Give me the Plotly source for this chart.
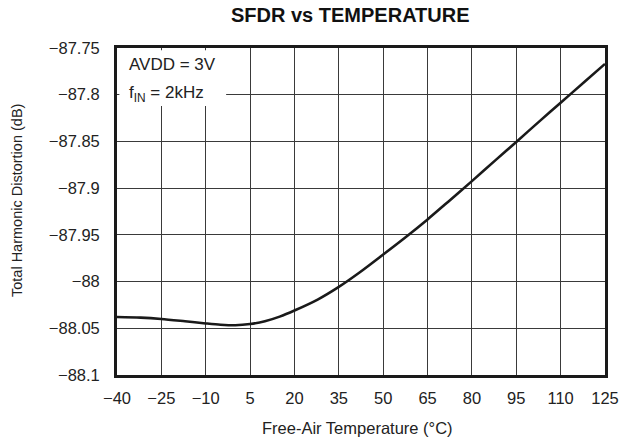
import plotly.graph_objects as go

# Free-air temperature (°C) and measured total harmonic distortion (dB)
temperature = [-40, -32, -25, -17, -10, -5, 0, 5, 10, 15, 20, 28, 35, 42, 50, 58, 65, 72, 80, 88, 95, 103, 110, 118, 125]
thd_db = [-88.038, -88.0386, -88.040, -88.0425, -88.0448, -88.0462, -88.0468, -88.0455, -88.0425, -88.0375,
          -88.031, -88.019, -88.0057, -87.9903, -87.9711, -87.9515, -87.9335, -87.9145, -87.8925, -87.870,
          -87.8505, -87.828, -87.8085, -87.7865, -87.767]

x_ticks = [-40, -25, -10, 5, 20, 35, 50, 65, 80, 95, 110, 125]
y_ticks = [-87.75, -87.8, -87.85, -87.9, -87.95, -88, -88.05, -88.1]


def fmt(v):
    return f"{v:g}".replace("-", "\u2212")


fig = go.Figure()
fig.add_trace(go.Scatter(
    x=temperature, y=thd_db, mode="lines",
    line=dict(color="#1a1a1a", width=2.6, shape="spline", smoothing=0.8),
    hoverinfo="skip", showlegend=False,
))

font = "Liberation Sans, Arial, sans-serif"
axis_common = dict(
    showgrid=True, gridcolor="#3a3a3a", gridwidth=1,
    showline=True, linecolor="#1a1a1a", linewidth=2.8, mirror=True,
    ticks="", zeroline=False,
    tickfont=dict(family=font, size=16.5, color="#222"),
)

fig.update_layout(
    width=630, height=443,
    margin=dict(l=117, r=25, t=48, b=68),
    paper_bgcolor="white", plot_bgcolor="white",
    title=dict(text="<b>SFDR vs TEMPERATURE</b>", xref="container", yref="container",
               x=0.556, xanchor="center", y=0.966, yanchor="middle",
               font=dict(family=font, size=20, color="#111")),
    xaxis=dict(range=[-40, 125], tickvals=x_ticks, ticktext=[fmt(v) for v in x_ticks],
               ticklabelstandoff=6, **axis_common),
    yaxis=dict(range=[-88.1, -87.75], tickvals=y_ticks, ticktext=[fmt(v) for v in y_ticks],
               ticklabelstandoff=11, **axis_common),
    shapes=[dict(type="rect", xref="x", yref="y", x0=-39.2, x1=-3.1, y0=-87.812, y1=-87.7525,
                 fillcolor="white", line=dict(width=0), layer="between")],
    annotations=[
        dict(text="AVDD = 3V", xref="paper", yref="paper", x=0.02, y=0.95, xanchor="left", yanchor="middle",
             showarrow=False, font=dict(family=font, size=17, color="#222")),
        dict(text="f<sub>IN</sub> = 2kHz", xref="paper", yref="paper", x=0.02, y=0.86, xanchor="left", yanchor="middle",
             showarrow=False, font=dict(family=font, size=17, color="#222")),
        dict(text="Free-Air Temperature (°C)", xref="paper", yref="paper", x=0.492, y=-0.162,
             xanchor="center", yanchor="middle", showarrow=False,
             font=dict(family=font, size=16.5, color="#222")),
        dict(text="Total Harmonic Distortion (dB)", xref="paper", yref="paper", x=-0.205, y=0.535,
             xanchor="center", yanchor="middle", textangle=-90, showarrow=False,
             font=dict(family=font, size=14.5, color="#222")),
    ],
)

fig.write_html("out.html")
